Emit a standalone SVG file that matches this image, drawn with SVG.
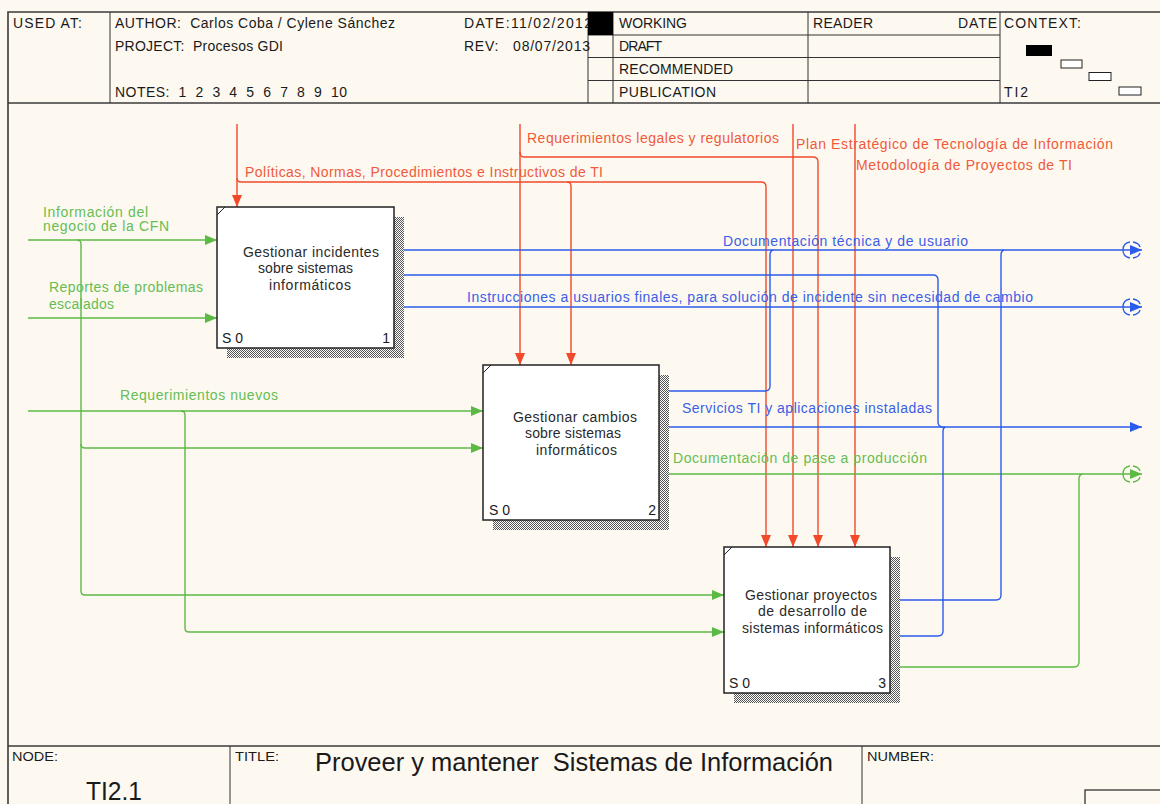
<svg xmlns="http://www.w3.org/2000/svg" xmlns:xlink="http://www.w3.org/1999/xlink" width="1160" height="804" viewBox="0 0 1160 804">
<style>
.frame{fill:none;stroke:#3a3a3a;stroke-width:1.6}
.thin{fill:none;stroke:#333;stroke-width:1}
.hdr{font-family:"Liberation Sans",Arial,sans-serif;font-size:14px;fill:#1a1a1a}
.num{font-family:"Liberation Sans",Arial,sans-serif;font-size:14px;fill:#1a1a1a}
.ftr{font-family:"Liberation Sans",Arial,sans-serif;font-size:13px;fill:#1a1a1a}
.lbl{font-family:"Liberation Sans",Arial,sans-serif;font-size:14px}
.bt{font-family:"Liberation Sans",Arial,sans-serif;font-size:14px;fill:#2a2a2a}
.red{fill:none;stroke:#F04A2A;stroke-width:1.4}
.grn{fill:none;stroke:#5CB946;stroke-width:1.4}
.blu{fill:none;stroke:#2B5BEA;stroke-width:1.4}
.tr{fill:#F0593A}
.tg{fill:#66BD52}
.tb{fill:#3A5EE6}
.box{fill:#fff;stroke:#222;stroke-width:1.5}
.shadow{fill:url(#hatch)}
</style>
<defs>
<pattern id="hatch" width="2" height="2" patternUnits="userSpaceOnUse">
<rect width="2" height="2" fill="#fff"/>
<rect width="1" height="1" fill="#555"/>
<rect x="1" y="1" width="1" height="1" fill="#555"/>
</pattern>
<marker id="aR" viewBox="0 0 12 10" refX="12" refY="5" markerWidth="12" markerHeight="10" markerUnits="userSpaceOnUse" orient="auto"><path d="M0,0 L12,5 L0,10 z" fill="#F04A2A"/></marker>
<marker id="aG" viewBox="0 0 12 10" refX="12" refY="5" markerWidth="12" markerHeight="10" markerUnits="userSpaceOnUse" orient="auto"><path d="M0,0 L12,5 L0,10 z" fill="#5CB946"/></marker>
<marker id="aB" viewBox="0 0 12 10" refX="12" refY="5" markerWidth="12" markerHeight="10" markerUnits="userSpaceOnUse" orient="auto"><path d="M0,0 L12,5 L0,10 z" fill="#2B5BEA"/></marker>
<g id="tun" fill="none" stroke="currentColor" stroke-width="1.3">
<path d="M-12,-8 Q-19,-7 -19,0 Q-19,7 -12,8"/>
<path d="M-9,-8 Q-3,-7 -2,-3 M-2,3 Q-3,7 -9,8"/>
</g>
</defs>

<rect x="0" y="0" width="1160" height="804" fill="#FDF9F1"/>

<g id="header">
<path class="frame" d="M8,804 V12 H1160"/>
<path class="frame" d="M8,103 H1160"/>
<path class="thin" d="M110,12 V103 M588,12 V103 M613,12 V103 M808,12 V103 M1000,12 V103 M588,35 H1000 M588,57.5 H1000 M588,80.5 H1000"/>
<text class="hdr" x="13" y="28" textLength="69">USED AT:</text>
<text class="hdr" x="115" y="28" textLength="280" xml:space="preserve">AUTHOR:  Carlos Coba / Cylene Sánchez</text>
<text class="hdr" x="115" y="51" textLength="168" xml:space="preserve">PROJECT:  Procesos GDI</text>
<text class="hdr" x="115" y="97" textLength="232" xml:space="preserve">NOTES:  1  2  3  4  5  6  7  8  9  10</text>
<text class="hdr" x="464" y="28" textLength="128">DATE:11/02/2012</text>
<text class="hdr" x="464" y="51" textLength="126" xml:space="preserve">REV:   08/07/2013</text>
<rect x="588" y="12" width="25" height="23" fill="#000"/>
<text class="hdr" x="619" y="28" textLength="68">WORKING</text>
<text class="hdr" x="619" y="51" textLength="43">DRAFT</text>
<text class="hdr" x="619" y="74" textLength="114">RECOMMENDED</text>
<text class="hdr" x="619" y="97" textLength="97">PUBLICATION</text>
<text class="hdr" x="813" y="28" textLength="60">READER</text>
<text class="hdr" x="958" y="28" textLength="39">DATE</text>
<text class="hdr" x="1004" y="28" textLength="77">CONTEXT:</text>
<text class="hdr" x="1004" y="97" textLength="24">TI2</text>
<rect x="1026" y="45" width="26" height="11" fill="#000"/>
<rect x="1061" y="60" width="21" height="8" fill="#fff" stroke="#222" stroke-width="1"/>
<rect x="1089" y="72.5" width="22" height="8" fill="#fff" stroke="#222" stroke-width="1"/>
<rect x="1119" y="87" width="22" height="8" fill="#fff" stroke="#222" stroke-width="1"/>
</g>

<g id="footer">
<path class="frame" d="M8,746 H1160"/>
<path class="thin" d="M230,746 V804 M862,746 V804"/>
<rect x="1085" y="790" width="80" height="20" fill="none" stroke="#222" stroke-width="1.2"/>
<text class="ftr" x="12" y="761" textLength="46" lengthAdjust="spacingAndGlyphs">NODE:</text>
<text class="ftr" x="235" y="761" textLength="44" lengthAdjust="spacingAndGlyphs">TITLE:</text>
<text class="ftr" x="867" y="761" textLength="67" lengthAdjust="spacingAndGlyphs">NUMBER:</text>
<text x="86" y="800" font-family="'Liberation Sans',Arial,sans-serif" font-size="25" fill="#1a1a1a" textLength="56" lengthAdjust="spacingAndGlyphs">TI2.1</text>
<text x="315" y="771" font-family="'Liberation Sans',Arial,sans-serif" font-size="26" fill="#1a1a1a" textLength="518" lengthAdjust="spacingAndGlyphs" xml:space="preserve">Proveer y mantener  Sistemas de Información</text>
</g>

<g id="connectors">
<path class="red" d="M237,124 V207" marker-end="url(#aR)"/>
<path class="red" d="M237,178 Q237,182 241,182 H761 Q766,182 766,187 V547" marker-end="url(#aR)"/>
<path class="red" d="M567,182 Q571,182 571,186 V365" marker-end="url(#aR)"/>
<path class="red" d="M520,124 V365" marker-end="url(#aR)"/>
<path class="red" d="M520,152 Q520,157 524,157 H813 Q818,157 818,162 V547" marker-end="url(#aR)"/>
<path class="red" d="M793,124 V547" marker-end="url(#aR)"/>
<path class="red" d="M855,124 V547" marker-end="url(#aR)"/>

<path class="grn" d="M28,240 H217" marker-end="url(#aG)"/>
<path class="grn" d="M77,240 Q81,240 81,244 V444 Q81,448 85,448 H483" marker-end="url(#aG)"/>
<path class="grn" d="M81,444 V591 Q81,595 85,595 H724" marker-end="url(#aG)"/>
<path class="grn" d="M28,318 H217" marker-end="url(#aG)"/>
<path class="grn" d="M28,411 H483" marker-end="url(#aG)"/>
<path class="grn" d="M181,411 Q185,411 185,415 V628 Q185,632 189,632 H724" marker-end="url(#aG)"/>
<path class="grn" d="M659,474 H1142" marker-end="url(#aG)"/>
<use xlink:href="#tun" href="#tun" x="1142" y="474" color="#5CB946"/>
<path class="grn" d="M890,667 H1074 Q1079,667 1079,662 V479 Q1079,475 1082,474"/>

<path class="blu" d="M394,250 H1142" marker-end="url(#aB)"/>
<use xlink:href="#tun" href="#tun" x="1142" y="250" color="#2B5BEA"/>
<path class="blu" d="M394,307 H1142" marker-end="url(#aB)"/>
<use xlink:href="#tun" href="#tun" x="1142" y="307" color="#2B5BEA"/>
<path class="blu" d="M394,275 H933 Q938,275 938,280 V422 Q938,427 943,427"/>
<path class="blu" d="M659,427 H1142" marker-end="url(#aB)"/>
<path class="blu" d="M659,391 H765 Q770,391 770,386 V255 Q770,251 773,250"/>
<path class="blu" d="M890,600 H996 Q1001,600 1001,595 V255 Q1001,251 1004,250"/>
<path class="blu" d="M890,636 H938 Q943,636 943,631 V431 Q943,428 945,427"/>

<text class="lbl tr" x="245" y="177" textLength="358">Políticas, Normas, Procedimientos e Instructivos de TI</text>
<text class="lbl tr" x="527" y="143" textLength="252">Requerimientos legales y regulatorios</text>
<text class="lbl tr" x="796" y="149" textLength="317">Plan Estratégico de Tecnología de Información</text>
<text class="lbl tr" x="856" y="170" textLength="216">Metodología de Proyectos de TI</text>
<text class="lbl tg" x="43" y="217" textLength="105">Información del</text>
<text class="lbl tg" x="43" y="231" textLength="126">negocio de la CFN</text>
<text class="lbl tg" x="49" y="292" textLength="154">Reportes de problemas</text>
<text class="lbl tg" x="49" y="309" textLength="65">escalados</text>
<text class="lbl tg" x="120" y="400" textLength="158">Requerimientos nuevos</text>
<text class="lbl tg" x="673" y="463" textLength="254">Documentación de pase a producción</text>
<text class="lbl tb" x="723" y="246" textLength="245">Documentación técnica y de usuario</text>
<text class="lbl tb" x="467" y="302" textLength="566">Instrucciones a usuarios finales, para solución de incidente sin necesidad de cambio</text>
<text class="lbl tb" x="682" y="413" textLength="250">Servicios TI y aplicaciones instaladas</text>
</g>

<g id="node1">
<rect class="shadow" x="227" y="217" width="177" height="141"/>
<rect class="box" x="217" y="207" width="177" height="141"/>
<line x1="217" y1="215" x2="225" y2="207" stroke="#222" stroke-width="1"/>
<text class="bt" x="243" y="257" textLength="136">Gestionar incidentes</text>
<text class="bt" x="258" y="273" textLength="95">sobre sistemas</text>
<text class="bt" x="269" y="290" textLength="82">informáticos</text>
<text class="num" x="222" y="343">S 0</text>
<text class="num" x="390" y="343" text-anchor="end">1</text>
</g>

<g id="node2">
<rect class="shadow" x="493" y="375" width="176" height="155"/>
<rect class="box" x="483" y="365" width="176" height="155"/>
<line x1="483" y1="373" x2="491" y2="365" stroke="#222" stroke-width="1"/>
<text class="bt" x="513" y="422" textLength="124">Gestionar cambios</text>
<text class="bt" x="525" y="438" textLength="96">sobre sistemas</text>
<text class="bt" x="536" y="455" textLength="81">informáticos</text>
<text class="num" x="489" y="515">S 0</text>
<text class="num" x="656" y="515" text-anchor="end">2</text>
</g>

<g id="node3">
<rect class="shadow" x="734" y="557" width="166" height="146"/>
<rect class="box" x="724" y="547" width="166" height="146"/>
<line x1="724" y1="555" x2="732" y2="547" stroke="#222" stroke-width="1"/>
<text class="bt" x="745" y="600" textLength="132">Gestionar proyectos</text>
<text class="bt" x="758" y="616" textLength="109">de desarrollo de</text>
<text class="bt" x="742" y="633" textLength="141">sistemas informáticos</text>
<text class="num" x="729" y="688">S 0</text>
<text class="num" x="886" y="688" text-anchor="end">3</text>
</g>
</svg>
